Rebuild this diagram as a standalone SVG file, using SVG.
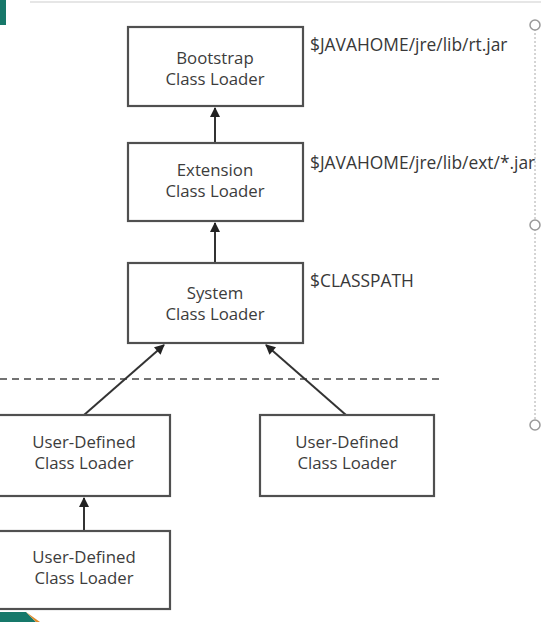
<svg xmlns="http://www.w3.org/2000/svg" width="541" height="622" viewBox="0 0 541 622">
<style>
.box{fill:#fff;stroke:#505050;stroke-width:2.2}
.t{font-family:"Open Sans","Noto Sans","Liberation Sans",sans-serif;font-size:16.8px;fill:#3c3c3c;text-anchor:middle}
.lbl{font-family:"Open Sans","Noto Sans","Liberation Sans",sans-serif;font-size:17.4px;fill:#383838}
.c{stroke:#333;stroke-width:2;fill:none;marker-end:url(#ah)}
</style>
<defs>
<marker id="ah" viewBox="0 0 10 10" refX="9" refY="5" markerWidth="5.5" markerHeight="5" orient="auto" markerUnits="strokeWidth">
<path d="M0,0 L10,5 L0,10 z" fill="#222"/>
</marker>
</defs>
<rect width="541" height="622" fill="#fff"/>
<g id="decor">
<line x1="30" y1="2" x2="541" y2="2" stroke="#e6e6e6" stroke-width="2"/>
<rect x="0" y="0" width="6" height="25" fill="#17786a"/>
<path d="M0,612 L26,612 L36,622 L0,622 z" fill="#17786a"/>
<path d="M26,612 L36,622 L40,622 z" fill="#e08a2a"/>
<line x1="535" y1="25" x2="535" y2="425" stroke="#aaa" stroke-width="1" stroke-dasharray="2,2"/>
<circle cx="535" cy="25" r="5" fill="#fff" stroke="#999" stroke-width="1.5"/>
<circle cx="535" cy="225" r="5" fill="#fff" stroke="#999" stroke-width="1.5"/>
<circle cx="535" cy="425" r="5" fill="#fff" stroke="#999" stroke-width="1.5"/>
<line x1="0" y1="379" x2="440" y2="379" stroke="#444" stroke-width="1.5" stroke-dasharray="7,5"/>
</g>
<g id="connectors">
<line class="c" x1="215" y1="142" x2="215" y2="108"/>
<line class="c" x1="215" y1="262" x2="215" y2="223"/>
<line class="c" x1="84" y1="415" x2="164" y2="345"/>
<line class="c" x1="346" y1="415" x2="266" y2="345"/>
<line class="c" x1="84" y1="530" x2="84" y2="498"/>
</g>
<g id="bootstrap">
<rect class="box" x="128" y="27" width="175" height="79"/>
<text class="t" x="215" y="64">Bootstrap</text>
<text class="t" x="215" y="85">Class Loader</text>
<text class="lbl" x="310" y="51">$JAVAHOME/jre/lib/rt.jar</text>
</g>
<g id="extension">
<rect class="box" x="128" y="143" width="175" height="78"/>
<text class="t" x="215" y="176">Extension</text>
<text class="t" x="215" y="197">Class Loader</text>
<text class="lbl" x="310" y="169">$JAVAHOME/jre/lib/ext/*.jar</text>
</g>
<g id="system">
<rect class="box" x="128" y="263" width="175" height="80"/>
<text class="t" x="215" y="299">System</text>
<text class="t" x="215" y="320">Class Loader</text>
<text class="lbl" x="310" y="287">$CLASSPATH</text>
</g>
<g id="user1">
<rect class="box" x="-2" y="415" width="172" height="81"/>
<text class="t" x="84" y="448">User-Defined</text>
<text class="t" x="84" y="469">Class Loader</text>
</g>
<g id="user2">
<rect class="box" x="260" y="415" width="174" height="81"/>
<text class="t" x="347" y="448">User-Defined</text>
<text class="t" x="347" y="469">Class Loader</text>
</g>
<g id="user3">
<rect class="box" x="-2" y="531" width="172" height="78"/>
<text class="t" x="84" y="563">User-Defined</text>
<text class="t" x="84" y="584">Class Loader</text>
</g>
</svg>
